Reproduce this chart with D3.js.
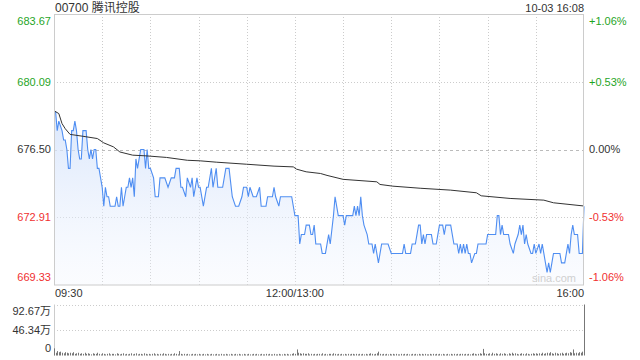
<!DOCTYPE html>
<html><head><meta charset="utf-8">
<script src="https://cdn.jsdelivr.net/npm/d3@7"></script>
<style>
html,body{margin:0;padding:0;background:#fff;}
svg text{font-family:Arial,"Liberation Sans","Noto Sans CJK SC",sans-serif;}
</style></head>
<body><svg id="c" width="640" height="360"></svg>
<script>
// ---------- data ----------
const title = "00700 腾讯控股";
const stamp = "10-03 16:08";
const prevClose = 676.50;
const priceTicks = [683.67, 680.09, 676.50, 672.91, 669.33];
const pctTicks = ["+1.06%", "+0.53%", "0.00%", "-0.53%", "-1.06%"];
const timeTickMinutes = [0, 150, 330];
const timeTickLabels = ["09:30", "12:00/13:00", "16:00"];
const volTicks = [92.67, 46.34, 0];
const volTickLabels = ["92.67万", "46.34万", "0"];

// price path vertices (minute index from 09:30, lunch removed) and price
const priceMinutes = [0,1,2,3,5,6,7,8,9,10,11,12,13,14,15,16,17,18,20,21,22,23,24,25,26,27,28,29,30,31,32,33,34,35,38,39,40,41,42,43,44,45,46,47,48,49,50,51,52,53,54,56,57,58,59,60,62,63,65,
66,69,71,73,75,76,78,79,80,82,83,85,86,87,89,90,91,93,95,96,98,99,101,102,105,107,109,111,113,115,117,118,120,121,122,124,126,128,129,132,133,
136,137,138,140,141,148,150,152,153,154,156,157,159,160,161,162,163,166,167,169,171,172,174,175,177,180,181,182,186,187,188,189,190,191,192,193,195,196,198,199,200,201,202,203,204,208,210,217,218,219,222,223,225,226,227,228,229,230,231,232,235,236,238,240,242,243,244,247,248,249,251,252,253,254,255,256,257,258,259,260,262,263,264,269,270,275,276,277,278,279,280,283,284,286,287,289,290,291,292,293,294,295,297,298,299,300,302,303,304,305,306,307,308,309,310,311,315,316,318,319,320,321,322,323,324,326,327,329,330];
const priceValues = [678.5,678.5,677.5,678,677.5,677,677,676.5,675.5,675.5,677.5,677.5,678,677.5,676.5,676,676,677.5,677.5,676.5,676,676.5,676,676.5,676.5,675.5,675.5,675,674.5,673.5,674.5,674,674,673.5,673.5,674,673.5,673.5,674.5,673.5,674,674.5,674.5,675,674.5,675,674,676,675.5,676,676.5,676.5,675.5,676.5,675.5,675.5,675,674,674,
675,675,674.5,675,675,675.5,675.5,674.5,674.5,674,675,674.5,675,674,675,674.5,674.5,673.5,674.5,674.5,675.5,674.5,675.5,674.5,674.5,675.5,675.5,674,673.5,673.5,674,674.5,674.5,674,674.5,674,674,674.5,673.5,673.5,674,
674,674.5,674,673.5,674,674,673,673,671.5,672,672,672.5,672.5,672,672,672.5,671.5,671.5,671,671,672,671.5,673,674,673,673,672.5,673,673,673.5,673,673.5,673,674,673,672.5,672,671.5,671.5,671,671.5,671,670.5,671,671.5,671.5,671,671,671.5,671,671,671.5,671.5,672,672.5,672.5,671.5,672,671.5,672,672,671.5,671.5,672.5,672.5,672,672.5,672.5,672,671.5,671.5,671,671.5,671,671.5,671,671.5,671,671,670.5,671,671,671.5,671.5,672,672,673,673,672,672.5,672,672,671.5,671,671.5,672,672.5,672,672.5,671.5,672,671.5,671,671,671.5,671,671.5,671,671.5,671,670.5,670,670.5,670,670.5,671,671,670.5,670.5,671,671.5,671,672,672.5,672,672,671,671,673.5];

// average price line vertices
const avgMinutes = [0,3,5,7,10,18,27,31,37,41,49,58,70,83,91,101,120,137,149,151,157,166,170,180,201,203,211,228,247,263,266,284,305,311,330];
const avgValues = [678.55,678.4,677.87,677.6,677.3,677.2,677.08,676.85,676.64,676.37,676.2,676.16,676.08,675.93,675.9,675.83,675.72,675.62,675.58,675.46,675.32,675.23,675.13,674.92,674.79,674.65,674.56,674.45,674.35,674.21,674.05,673.91,673.82,673.68,673.51];

// volume per minute (万股)
const volumes = [13,5,8,6,7,5,4,6,5,4, 5,4,6,3,4,5,3,4,3,5, 3,4,3,2,4,3,3,5,3,2, 4,3,2,3,4,2,3,3,2,4,
3,2,3,4,2,3,2,3,4,2, 3,4,2,3,3,2,4,3,2,3, 2,3,4,2,3,2,3,2,4,3, 2,3,2,3,2,4,3,2,8,3,
2,3,2,3,2,2,3,2,3,2, 3,2,2,3,2,3,2,2,3,2, 2,3,2,2,3,2,2,3,2,2, 3,2,2,3,2,3,2,2,3,2,
2,3,2,2,3,2,3,2,2,3, 2,2,3,2,3,2,2,3,2,2, 3,2,2,3,2,3,2,2,3,4, 3,11,5,4,3,4,3,3,4,2,
3,2,3,2,3,3,2,4,2,3, 2,3,3,2,4,3,2,3,2,3, 2,3,2,3,2,3,3,2,3,2, 3,2,3,2,3,2,3,4,3,2,
3,4,7,3,2,3,2,3,2,3, 2,3,2,3,2,2,3,2,3,2, 3,2,2,3,2,3,2,3,2,3, 2,3,2,2,3,2,3,2,3,2,
3,2,3,2,2,3,2,3,2,3, 2,3,2,3,3,2,3,2,3,2, 3,4,3,2,3,4,3,12,4,3, 3,4,2,5,3,4,3,2,4,3,
4,3,2,4,3,5,3,4,3,2, 3,4,3,2,4,3,2,3,4,3, 4,3,4,3,5,3,4,5,4,6, 4,3,5,4,3,4,5,3,4,5,
4,6,5,11,4,5,4,6,5,7, 92.67];

// ---------- drawing ----------
const svg = d3.select("#c");
const L = 54, R = 584, T = 14, B = 285;
const VT = 304.5, VB = 355.5;
const green = "#1fa51f", red = "#f03030", dark = "#333";
const gridC = "#ccc";

const x = d3.scaleLinear().domain([0, 330]).range([L, R]);
const y = d3.scaleLinear().domain([priceTicks[4], priceTicks[0]]).range([B, T]);
const yv = d3.scaleLinear().domain([0, volTicks[0]]).range([VB, VT]);

const colorFor = v => Math.abs(v - prevClose) < 1e-6 ? dark : (v > prevClose ? green : red);

// gradient
const defs = svg.append("defs");
const grad = defs.append("linearGradient").attr("id", "g").attr("gradientUnits", "userSpaceOnUse")
  .attr("x1", 0).attr("x2", 0).attr("y1", y(678.5)).attr("y2", B);
grad.append("stop").attr("offset", 0).attr("stop-color", "#d3e2fb").attr("stop-opacity", 0.85);
grad.append("stop").attr("offset", 1).attr("stop-color", "#eef3fd").attr("stop-opacity", 0.25);

// vertical grid (every 30 minutes)
const vgrid = d3.range(30, 330, 30);
svg.append("g").selectAll("line").data(vgrid).join("line")
  .attr("x1", d => Math.round(x(d)) + 0.5).attr("x2", d => Math.round(x(d)) + 0.5)
  .attr("y1", T).attr("y2", B)
  .attr("stroke", gridC).attr("stroke-dasharray", "1,2");

// horizontal grid
svg.append("g").selectAll("line").data(priceTicks.slice(1, 4)).join("line")
  .attr("x1", L).attr("x2", R)
  .attr("y1", d => Math.round(y(d)) + 0.5).attr("y2", d => Math.round(y(d)) + 0.5)
  .attr("stroke", d => d === prevClose ? "#bbb" : gridC)
  .attr("stroke-dasharray", d => d === prevClose ? "3,3" : "1,2");

// data
const pts = priceMinutes.map((m, i) => ({ m, p: priceValues[i] }));
const avgPts = avgMinutes.map((m, i) => ({ m, p: avgValues[i] }));

svg.append("path").datum(pts)
  .attr("d", d3.area().x(d => x(d.m)).y0(B).y1(d => y(d.p)))
  .attr("fill", "url(#g)");

svg.append("path").datum(pts)
  .attr("d", d3.line().x(d => x(d.m)).y(d => y(d.p)))
  .attr("fill", "none").attr("stroke", "#4f8ef2").attr("stroke-width", 1.1);

svg.append("path").datum(avgPts)
  .attr("d", d3.line().x(d => x(d.m)).y(d => y(d.p)))
  .attr("fill", "none").attr("stroke", "#333").attr("stroke-width", 1);

// frame
svg.append("rect").attr("x", L + 0.5).attr("y", T + 0.5).attr("width", R - L - 1).attr("height", B - T - 0.5)
  .attr("fill", "none").attr("stroke", gridC);

// watermark
svg.append("text").attr("x", 532).attr("y", 282).attr("font-size", 11).attr("fill", "#d0d0d0").text("sina.com");

// price labels
const labY = (v, i) => i === 0 ? y(v) + 7 : (i === 4 ? y(v) - 8 : y(v));
svg.append("g").selectAll("text").data(priceTicks).join("text")
  .attr("x", 51).attr("y", (d, i) => labY(d, i)).attr("dy", "0.35em")
  .attr("text-anchor", "end").attr("font-size", 11).attr("fill", colorFor)
  .text(d => d.toFixed(2));
svg.append("g").selectAll("text").data(pctTicks).join("text")
  .attr("x", 589).attr("y", (d, i) => labY(priceTicks[i], i)).attr("dy", "0.35em")
  .attr("font-size", 11).attr("fill", (d, i) => colorFor(priceTicks[i]))
  .text(d => d);

// title & stamp
svg.append("text").attr("x", 55).attr("y", 12).attr("font-size", 12).attr("fill", dark).text(title);
svg.append("text").attr("x", 584).attr("y", 11.5).attr("font-size", 11).attr("text-anchor", "end").attr("fill", dark).text(stamp);

// time labels
svg.append("g").selectAll("text").data(timeTickMinutes).join("text")
  .attr("x", (d, i) => i === 0 ? x(d) + 1 : (i === 2 ? x(d) : x(d)))
  .attr("y", 297).attr("font-size", 11).attr("fill", dark)
  .attr("text-anchor", (d, i) => i === 0 ? "start" : (i === 2 ? "end" : "middle"))
  .text((d, i) => timeTickLabels[i]);

// volume panel
svg.append("g").selectAll("line").data(volTicks.slice(0, 2)).join("line")
  .attr("x1", L).attr("x2", R)
  .attr("y1", d => Math.round(yv(d)) + 0.5).attr("y2", d => Math.round(yv(d)) + 0.5)
  .attr("stroke", gridC).attr("stroke-dasharray", "1,2");
svg.append("line").attr("x1", L + 0.5).attr("x2", L + 0.5).attr("y1", VT).attr("y2", VB).attr("stroke", gridC);

svg.append("g").selectAll("line").data(volumes).join("line")
  .attr("x1", (d, i) => Math.round(x(i)) + 0.5).attr("x2", (d, i) => Math.round(x(i)) + 0.5)
  .attr("y1", VB).attr("y2", d => yv(d))
  .attr("stroke", "#777").attr("stroke-width", 1);

const vLabY = (v, i) => i === 0 ? yv(v) + 7 : (i === 2 ? yv(v) - 7 : yv(v));
svg.append("g").selectAll("text").data(volTicks).join("text")
  .attr("x", 51).attr("y", (d, i) => vLabY(d, i)).attr("dy", "0.35em")
  .attr("text-anchor", "end").attr("font-size", 11).attr("fill", dark)
  .text((d, i) => volTickLabels[i]);
</script>
</body></html>
